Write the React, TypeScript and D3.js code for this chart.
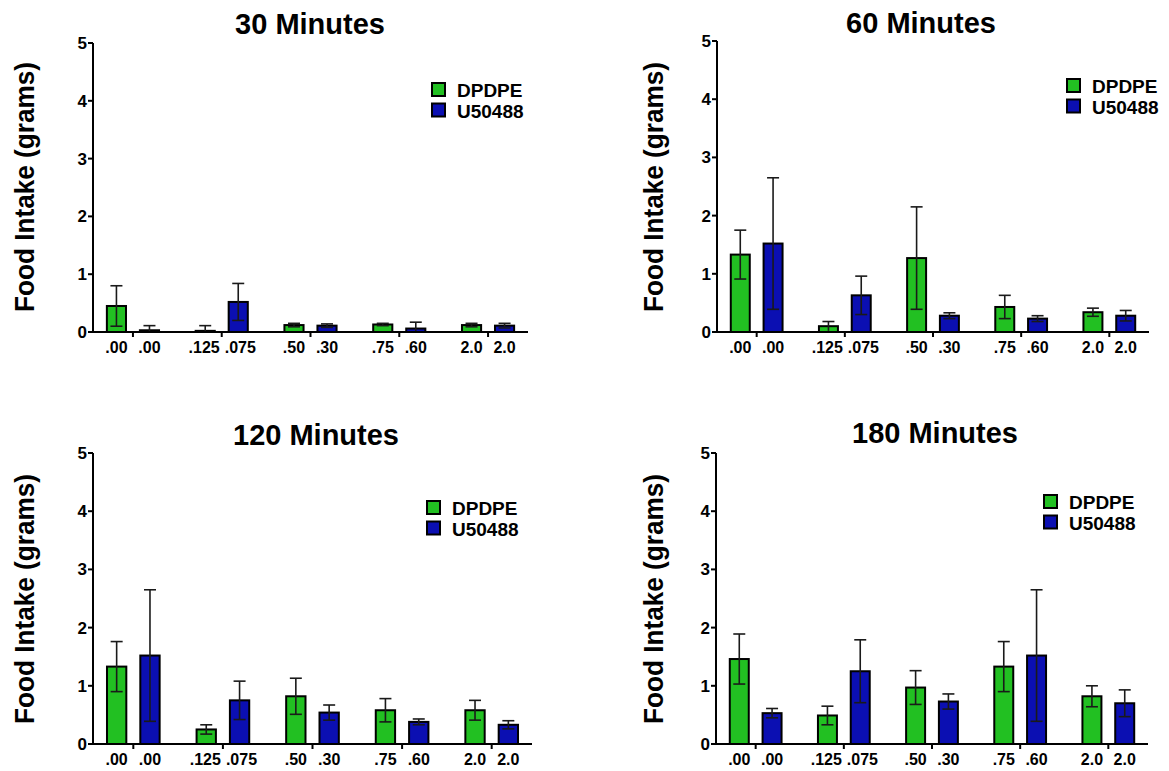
import * as d3 from "d3";
import { useEffect, useRef } from "react";

const timepoints = ["30 Minutes", "60 Minutes", "120 Minutes", "180 Minutes"];
const series = ["DPDPE", "U50488"];
const dpdpeDoses = [".00", ".125", ".50", ".75", "2.0"];
const u50488Doses = [".00", ".075", ".30", ".60", "2.0"];
const yTicks = [0, 1, 2, 3, 4, 5];

// mean food intake (grams) and SEM, one row per timepoint
const dpdpeMeans = [
  [0.45, 0.02, 0.12, 0.13, 0.12],
  [1.33, 0.10, 1.27, 0.43, 0.34],
  [1.33, 0.25, 0.82, 0.58, 0.58],
  [1.46, 0.49, 0.97, 1.33, 0.82],
];
const dpdpeSem = [
  [0.35, 0.09, 0.03, 0.02, 0.03],
  [0.42, 0.08, 0.88, 0.20, 0.07],
  [0.43, 0.08, 0.31, 0.20, 0.17],
  [0.43, 0.16, 0.29, 0.43, 0.18],
];
const u50488Means = [
  [0.03, 0.52, 0.11, 0.06, 0.11],
  [1.52, 0.63, 0.28, 0.23, 0.28],
  [1.52, 0.75, 0.54, 0.38, 0.33],
  [0.53, 1.25, 0.73, 1.52, 0.70],
];
const u50488Sem = [
  [0.08, 0.32, 0.03, 0.11, 0.04],
  [1.13, 0.33, 0.05, 0.05, 0.09],
  [1.13, 0.33, 0.13, 0.05, 0.07],
  [0.08, 0.54, 0.13, 1.13, 0.23],
];

// panel placement on the page
const panels = [
  { left: 93, right: 528, top: 43, bottom: 332, titleX: 310, titleY: 34, legX: 431, legY: 82, labelX: 34 },
  { left: 717, right: 1149, top: 41, bottom: 332, titleX: 921, titleY: 33, legX: 1066, legY: 78, labelX: 663 },
  { left: 93, right: 532, top: 453, bottom: 744, titleX: 316, titleY: 445, legX: 426, legY: 500, labelX: 34 },
  { left: 716, right: 1148, top: 453, bottom: 744, titleX: 935, titleY: 443, legX: 1043, legY: 494, labelX: 663 },
];

const colors = { DPDPE: "#22c022", U50488: "#0b0fb2" };
const FONT = "Arial, 'Liberation Sans', sans-serif";

export default function App() {
  const ref = useRef(null);

  useEffect(() => {
    const svg = d3.select(ref.current);
    svg.selectAll("*").remove();

    panels.forEach((p, pi) => {
      const g = svg.append("g");
      const groups = d3.range(dpdpeDoses.length);

      const x = d3.scalePoint().domain(groups).range([p.left, p.right]).padding(0.45);
      const step = x.step();
      const inner = d3.scaleBand()
        .domain(series)
        .range([-step * 0.305, step * 0.305])
        .paddingInner(0.36);
      const y = d3.scaleLinear().domain([0, 5]).range([p.bottom, p.top]);

      const rows = [];
      groups.forEach((gi) => {
        rows.push({ s: "DPDPE", gi, v: dpdpeMeans[pi][gi], e: dpdpeSem[pi][gi], lab: dpdpeDoses[gi] });
        rows.push({ s: "U50488", gi, v: u50488Means[pi][gi], e: u50488Sem[pi][gi], lab: u50488Doses[gi] });
      });
      const bw = inner.bandwidth();
      const cx = (d) => x(d.gi) + inner(d.s) + bw / 2;

      // bars
      g.selectAll("rect.bar")
        .data(rows)
        .join("rect")
        .attr("class", "bar")
        .attr("x", (d) => cx(d) - (bw - 2) / 2)
        .attr("width", bw - 2)
        .attr("y", (d) => y(d.v))
        .attr("height", (d) => y(0) - y(d.v))
        .attr("fill", (d) => colors[d.s])
        .attr("stroke", "#000")
        .attr("stroke-width", 2);

      // error bars
      const eg = g.selectAll("g.err").data(rows).join("g").attr("class", "err")
        .attr("stroke", "#1a1a1a").attr("stroke-width", 1.6);
      eg.append("line")
        .attr("x1", cx).attr("x2", cx)
        .attr("y1", (d) => y(Math.max(0, d.v - d.e)))
        .attr("y2", (d) => y(d.v + d.e));
      eg.append("line")
        .attr("x1", (d) => cx(d) - 6).attr("x2", (d) => cx(d) + 6)
        .attr("y1", (d) => y(d.v + d.e)).attr("y2", (d) => y(d.v + d.e));
      eg.filter((d) => d.v - d.e > 0.03).append("line")
        .attr("x1", (d) => cx(d) - 6).attr("x2", (d) => cx(d) + 6)
        .attr("y1", (d) => y(d.v - d.e)).attr("y2", (d) => y(d.v - d.e));

      // y axis
      g.append("line")
        .attr("x1", p.left).attr("x2", p.left)
        .attr("y1", y(0) + 1).attr("y2", y(5))
        .attr("stroke", "#000").attr("stroke-width", 2);
      g.selectAll("line.ytick")
        .data(yTicks)
        .join("line")
        .attr("class", "ytick")
        .attr("x1", p.left - 5).attr("x2", p.left)
        .attr("y1", (d) => y(d)).attr("y2", (d) => y(d))
        .attr("stroke", "#000").attr("stroke-width", 2);
      g.selectAll("text.ytick")
        .data(yTicks)
        .join("text")
        .attr("class", "ytick")
        .attr("x", p.left - 6)
        .attr("y", (d) => y(d) + 6)
        .attr("text-anchor", "end")
        .attr("font-family", FONT).attr("font-weight", "bold").attr("font-size", 17)
        .text((d) => d);

      // x axis
      g.append("line")
        .attr("x1", p.left - 1).attr("x2", p.right)
        .attr("y1", y(0)).attr("y2", y(0))
        .attr("stroke", "#000").attr("stroke-width", 2);
      g.selectAll("line.xtick")
        .data(groups)
        .join("line")
        .attr("class", "xtick")
        .attr("x1", (d) => x(d)).attr("x2", (d) => x(d))
        .attr("y1", y(0)).attr("y2", y(0) + 5)
        .attr("stroke", "#000").attr("stroke-width", 2);

      // dose labels: centred under bars, kept clear of the group tick
      g.selectAll("text.dose")
        .data(rows)
        .join("text")
        .attr("class", "dose")
        .attr("y", p.bottom + 21)
        .attr("text-anchor", "middle")
        .attr("font-family", FONT).attr("font-weight", "bold").attr("font-size", 16)
        .text((d) => d.lab)
        .attr("x", function (d) {
          const w = this.getComputedTextLength();
          const c = x(d.gi);
          if (d.s === "DPDPE") return Math.min(cx(d), c - 2 - w / 2);
          return Math.max(cx(d), c + 3 + w / 2);
        });

      // title
      g.append("text")
        .attr("x", p.titleX).attr("y", p.titleY)
        .attr("text-anchor", "middle")
        .attr("font-family", FONT).attr("font-weight", "bold").attr("font-size", 29)
        .text(timepoints[pi]);

      // y label
      g.append("text")
        .attr("transform", `translate(${p.labelX},${p.bottom - 20}) rotate(-90)`)
        .attr("font-family", FONT).attr("font-weight", "bold").attr("font-size", 28)
        .attr("textLength", 250).attr("lengthAdjust", "spacingAndGlyphs")
        .text("Food Intake (grams)");

      // legend
      const lg = g.append("g").attr("transform", `translate(${p.legX},${p.legY})`);
      series.forEach((s, si) => {
        lg.append("rect")
          .attr("x", 1).attr("y", si * 20.5 + 1)
          .attr("width", 13).attr("height", 13)
          .attr("fill", colors[s]).attr("stroke", "#000").attr("stroke-width", 2);
        lg.append("text")
          .attr("x", 26).attr("y", si * 20.5 + 15)
          .attr("font-family", FONT).attr("font-weight", "bold").attr("font-size", 19)
          .text(s);
      });
    });

    return () => d3.select(ref.current).selectAll("*").remove();
  }, []);

  return (
    <svg
      ref={ref}
      width={1169}
      height={771}
      style={{ position: "absolute", left: 0, top: 0, background: "#fff" }}
    ></svg>
  );
}
